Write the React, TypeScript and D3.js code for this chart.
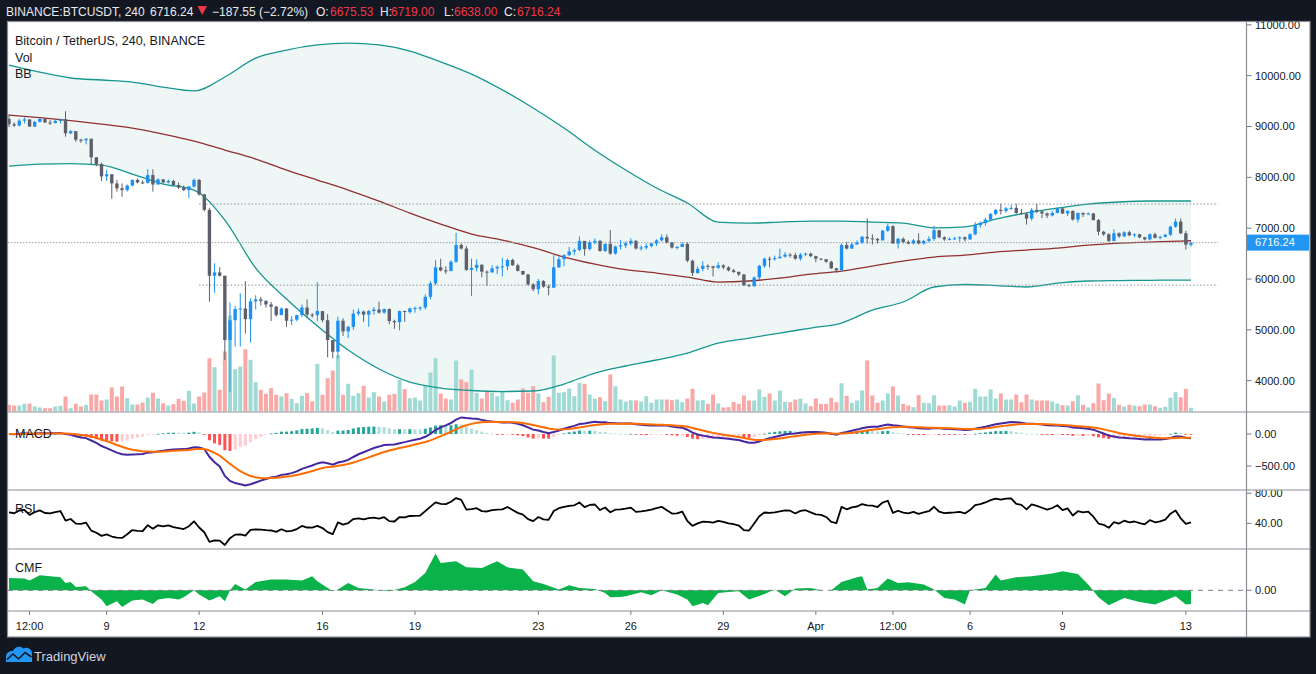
import { useEffect, useRef } from 'react';
import * as d3 from 'd3';

// BINANCE:BTCUSDT 4h bars, first bar 2020-03-05 20:00 UTC, last 2020-04-13 04:00 UTC
const firstOpen = 9150;

const closes = [
  9045, 9020, 9115, 9140, 9000, 9090, 9150, 9080, 9070, 9110,
  9140, 8865, 8910, 8740, 8730, 8760, 8395, 8262, 8020, 8060,
  7880, 7785, 7750, 7840, 7950, 7900, 7890, 8045, 7860, 7960,
  7900, 7930, 7850, 7800, 7750, 7820, 7950, 7665, 7360, 6065,
  6130, 6065, 4800, 5190, 5410, 5420, 5210, 5560, 5600, 5570,
  5500, 5455, 5290, 5420, 5180, 5200, 5290, 5440, 5300, 5290,
  5370, 5190, 4800, 4570, 5180, 4970, 5060, 5320, 5360, 5300,
  5370, 5400, 5340, 5410, 5175, 5150, 5370, 5350, 5420, 5430,
  5440, 5650, 5915, 6230, 6170, 6160, 6340, 6670, 6600, 6180,
  6220, 6280, 6145, 6130, 6210, 6240, 6250, 6375, 6270, 6160,
  6090, 5895, 5800, 5960, 5850, 5830, 6230, 6390, 6470, 6540,
  6570, 6750, 6590, 6720, 6750, 6550, 6690, 6500, 6640, 6660,
  6700, 6750, 6600, 6620, 6650, 6700, 6760, 6820, 6720, 6620,
  6630, 6690, 6360, 6120, 6200, 6260, 6250, 6220, 6270, 6230,
  6170, 6140, 6090, 5880, 5860, 6030, 6260, 6400, 6390, 6410,
  6440, 6480, 6470, 6400, 6480, 6500, 6450, 6400, 6390, 6340,
  6210, 6170, 6670, 6600, 6680, 6720, 6830, 6800, 6790, 6760,
  6950, 7040, 6700, 6790, 6730, 6700, 6760, 6700, 6750, 6790,
  6960, 6820, 6780, 6790, 6800, 6820, 6780, 6880, 7060, 7100,
  7170, 7280, 7360, 7340, 7390, 7400, 7300, 7280, 7190, 7360,
  7330, 7290, 7250, 7300, 7390, 7290, 7340, 7170, 7300, 7270,
  7290, 7160, 6930, 6880, 6750, 6900, 6840, 6920, 6860, 6880,
  6820, 6780, 6880, 6810, 6830, 6870, 7030, 7130, 6900, 6675.53,
  6716.24,
];

const highs = [
  9245, 9085, 9150, 9180, 9140, 9110, 9170, 9150, 9130, 9130,
  9160, 9300, 8930, 8910, 8760, 8770, 8760, 8400, 8290, 8150,
  8065, 7950, 7880, 7860, 7960, 7980, 7940, 8160, 8160, 7980,
  7970, 7960, 7950, 7900, 7840, 7830, 7980, 7970, 7670, 7400,
  6310, 6230, 6065, 5540, 5470, 5720, 5960, 5620, 5680, 5650,
  5580, 5550, 5470, 5440, 5430, 5270, 5300, 5500, 5600, 5330,
  5940, 5370, 5310, 4800, 5260, 5230, 5080, 5400, 5420, 5380,
  5390, 5450, 5555, 5420, 5420, 5200, 5380, 5380, 5440, 5460,
  5460, 5700, 5960, 6370, 6400, 6250, 6370, 6910, 6700, 6650,
  6400, 6390, 6290, 6170, 6270, 6270, 6420, 6400, 6400, 6300,
  6160, 6100, 5920, 6000, 5980, 5890, 6470, 6440, 6490, 6630,
  6600, 6840, 6750, 6760, 6800, 6770, 6700, 6964, 6660, 6770,
  6740, 6800, 6770, 6660, 6700, 6710, 6780, 6880, 6880, 6730,
  6650, 6720, 6720, 6380, 6250, 6350, 6290, 6260, 6330, 6290,
  6250, 6200, 6150, 6100, 5900, 6050, 6280, 6420, 6440, 6460,
  6600, 6530, 6510, 6520, 6510, 6520, 6520, 6460, 6410, 6370,
  6360, 6220, 6700, 6733, 6720, 6760, 6850, 7194, 6880, 6810,
  6970, 7090, 7060, 6810, 6820, 6760, 6790, 6900, 6770, 6840,
  7050, 6950, 6840, 6820, 6830, 6840, 6840, 6900, 7120, 7130,
  7200, 7300, 7380, 7480, 7420, 7460, 7480, 7380, 7310, 7400,
  7480, 7350, 7310, 7340, 7410, 7400, 7350, 7350, 7310, 7310,
  7310, 7300, 7180, 6950, 6900, 6980, 6920, 6940, 6950, 6900,
  6890, 6830, 6900, 6910, 6850, 6890, 7050, 7190, 7190, 6950,
  6719,
];

const lows = [
  8990, 8990, 9000, 9060, 8990, 8990, 9080, 9070, 9030, 9060,
  9060, 8800, 8850, 8700, 8680, 8650, 8250, 8220, 7930, 7930,
  7580, 7720, 7620, 7720, 7820, 7880, 7870, 7880, 7720, 7870,
  7880, 7880, 7830, 7770, 7730, 7590, 7800, 7640, 7330, 5555,
  5730, 6050, 4407, 3783, 4670, 4670, 4930, 4750, 5400, 5480,
  5440, 5174, 5260, 5310, 5060, 5100, 5170, 5250, 5230, 5240,
  5170, 5150, 4460, 4440, 4440, 4880, 4840, 5000, 5280, 5160,
  5060, 5300, 5320, 5320, 5110, 5020, 4990, 5160, 5320, 5340,
  5380, 5400, 5600, 5880, 6150, 6100, 6150, 6320, 6580, 6160,
  5665, 6150, 6033, 5870, 6130, 6100, 6050, 6170, 6260, 6150,
  6080, 5870, 5760, 5700, 5830, 5680, 5830, 6220, 6250, 6450,
  6470, 6550, 6460, 6560, 6680, 6540, 6530, 6480, 6480, 6580,
  6610, 6660, 6580, 6560, 6580, 6620, 6650, 6740, 6700, 6600,
  6580, 6630, 6330, 6060, 6100, 6150, 6180, 6050, 6200, 6190,
  6150, 6120, 6060, 5860, 5840, 5850, 5980, 6220, 6230, 6360,
  6400, 6420, 6420, 6380, 6360, 6450, 6430, 6330, 6370, 6320,
  6200, 6130, 6190, 6580, 6590, 6680, 6690, 6700, 6680, 6700,
  6760, 6930, 6690, 6600, 6700, 6680, 6680, 6680, 6680, 6720,
  6750, 6800, 6750, 6760, 6770, 6730, 6740, 6770, 6860, 7010,
  7050, 7150, 7250, 7270, 7300, 7360, 7280, 7260, 7070, 7150,
  7300, 7200, 7200, 7230, 7290, 7280, 7240, 7150, 7110, 7220,
  7260, 7150, 6860, 6850, 6730, 6740, 6810, 6820, 6840, 6820,
  6800, 6760, 6760, 6800, 6780, 6820, 6850, 7010, 6880, 6580,
  6638,
];

// volume, thousand BTC
const volumes = [
  6.7, 6, 6, 7.7, 8, 5, 4, 3.3, 3.3, 5,
  5.7, 15, 3.3, 7.7, 5, 6.7, 17, 17, 11, 12,
  24, 15, 25, 13.3, 7, 7, 9, 14, 18.7, 13,
  8.3, 6, 7.3, 12.7, 10.7, 20.7, 8, 15, 19, 53.3,
  44.3, 21.7, 60, 96, 42.3, 45, 62.3, 51.7, 29.3, 21.7,
  17.7, 23.3, 16.7, 15, 18.3, 12.7, 8.3, 15.7, 18.3, 10,
  47.7, 16.7, 33.3, 41, 56.3, 16.7, 27.7, 15.7, 18.3, 25.7,
  14, 19.3, 15, 10, 16.7, 17.7, 31.7, 22.3, 13.3, 14,
  11, 26, 39, 53.3, 18, 13, 12, 51, 32, 29.3,
  42, 18.7, 13, 20.3, 18.7, 15.3, 20.3, 11.3, 8.7, 12,
  23, 18.7, 25.3, 18, 9.3, 14.7, 56, 18.7, 19.3, 23,
  15.3, 28.7, 27.7, 17, 12.7, 14.3, 10.3, 37, 25.3, 12,
  10, 11.3, 11, 10, 15.3, 8.7, 12, 12, 12, 11.3,
  12, 9.3, 13, 22.7, 11, 11.3, 7.7, 17, 8, 4,
  4.3, 9.7, 7.7, 16, 11, 11, 22, 14.7, 18, 11,
  21, 9.7, 9.3, 12, 13, 8, 5.3, 13, 7.7, 7.7,
  13.7, 9.3, 28.3, 15.7, 8.7, 11, 21, 51, 16, 8.7,
  11, 18, 25, 16, 7.7, 6, 4.3, 16.3, 8.7, 8.3,
  16.3, 6, 6, 6.3, 5, 11, 8.7, 9.7, 22.7, 15,
  15, 22, 13, 18, 12, 12, 17, 9.3, 17, 12,
  11, 11, 11, 10, 8, 6.3, 6, 10.3, 16.3, 6.7,
  4, 8.3, 28, 11.3, 18, 13.7, 6.7, 5, 6.7, 6,
  5.3, 7, 7, 5.3, 3.7, 4.7, 13.7, 19.3, 14.3, 22.7,
  3.7,
];

// Bollinger Bands (plus the last one)
const bbBars = [
  0, 6, 12, 18, 24, 30, 36, 42, 48, 54, 60, 66, 72, 78, 84, 90, 96, 102, 108, 114,
  120, 126, 132, 138, 144, 150, 156, 162, 168, 174, 180, 186, 192, 198, 204, 210, 216, 222, 228, 230,
];
const bbUpper = [
  10210, 10070, 9955, 9915, 9875, 9775, 9700, 9975, 10345, 10505,
  10605, 10640, 10605, 10485, 10270, 10030, 9720, 9365, 8970, 8535,
  8145, 7790, 7495, 7120, 7100, 7120, 7140, 7140, 7120, 7100,
  7005, 7025, 7180, 7300, 7395, 7475, 7515, 7535, 7535, 7535,
];
const bbBasis = [
  9226, 9177, 9118, 9049, 8970, 8852, 8714, 8537, 8360, 8144,
  7947, 7751, 7534, 7298, 7082, 6885, 6767, 6620, 6433, 6295,
  6187, 6118, 6039, 5941, 5961, 6020, 6098, 6157, 6256, 6354,
  6433, 6472, 6531, 6570, 6610, 6669, 6708, 6728, 6747, 6753,
];
const bbLower = [
  8223, 8262, 8272, 8242, 8065, 7869, 7751, 7160, 6216, 5607,
  5076, 4603, 4230, 3974, 3856, 3807, 3787, 3797, 3935, 4151,
  4289, 4407, 4544, 4741, 4839, 4938, 5036, 5135, 5390, 5548,
  5843, 5892, 5872, 5843, 5921, 5961, 5970, 5974, 5980, 5980,
];

const cmfBars = [
  0, 3, 4, 6, 8, 10, 11, 12, 13, 15, 16, 18, 19, 21, 22, 24, 26, 28, 29, 31,
  33, 34, 36, 37, 39, 41, 42, 43, 44, 46, 48, 51, 54, 57, 59, 60, 63, 64, 66, 68,
  70, 72, 74, 77, 79, 81, 83, 84, 87, 89, 92, 95, 97, 100, 102, 104, 107, 109, 111, 114,
  116, 117, 119, 120, 123, 125, 127, 130, 132, 133, 135, 136, 138, 140, 142, 144, 147, 149, 151, 153,
  156, 158, 160, 162, 165, 166, 167, 169, 171, 173, 175, 178, 180, 182, 184, 186, 187, 190, 192, 193,
  196, 199, 203, 205, 208, 210, 212, 214, 217, 220, 223, 227, 229, 230,
];
const cmfValues = [
  0.123, 0.117, 0.097, 0.15, 0.14, 0.13, 0.073, 0.083, 0.033, 0.04, -0.01, -0.093, -0.16, -0.11, -0.167, -0.103, -0.093, -0.137, -0.093, -0.077,
  -0.093, -0.07, 0, -0.043, -0.103, -0.06, -0.11, 0, 0.063, 0.007, 0.083, 0.107, 0.107, 0.097, 0.14, 0.09, -0.01, 0.007, 0.073, 0.023,
  0.013, 0, -0.01, 0.03, 0.083, 0.173, 0.367, 0.273, 0.29, 0.23, 0.223, 0.29, 0.23, 0.207, 0.09, 0.063, 0.007, 0.05, 0.023, 0.013,
  -0.027, -0.07, -0.067, -0.06, -0.02, -0.05, 0, -0.043, -0.093, -0.16, -0.127, -0.15, -0.027, -0.017, -0.01, -0.093, -0.037, 0.007, -0.06, 0.017,
  0.023, 0, 0, 0.083, 0.13, 0.14, 0.007, 0.023, 0.117, 0.073, 0.08, 0.057, 0.007, -0.077, -0.093, -0.143, 0, 0.023, 0.157, 0.097,
  0.13, 0.14, 0.167, 0.19, 0.163, 0.057, -0.07, -0.15, -0.077, -0.117, -0.143, -0.06, -0.143, -0.137,
];

// horizontal rays drawn from Mar 12
const levelPrices = [7475, 5880];
const lastPrice = 6716.24;

const priceTicks = [4000, 5000, 6000, 7000, 8000, 9000, 10000, 11000];
const macdTicks = [0, -500];
const rsiTicks = [80, 40];
const cmfTicks = [0];

const timeTicks: [string, string][] = [
  ['2020-03-06T12:00:00Z', '12:00'],
  ['2020-03-09T00:00:00Z', '9'],
  ['2020-03-12T00:00:00Z', '12'],
  ['2020-03-16T00:00:00Z', '16'],
  ['2020-03-19T00:00:00Z', '19'],
  ['2020-03-23T00:00:00Z', '23'],
  ['2020-03-26T00:00:00Z', '26'],
  ['2020-03-29T00:00:00Z', '29'],
  ['2020-04-01T00:00:00Z', 'Apr'],
  ['2020-04-03T12:00:00Z', '12:00'],
  ['2020-04-06T00:00:00Z', '6'],
  ['2020-04-09T00:00:00Z', '9'],
  ['2020-04-13T00:00:00Z', '13'],
];

const W = 1316;
const H = 674;
const FONT = '"Liberation Sans", Arial, sans-serif';
const DARK = '#131722';
const RED = '#f23645';

const fmt = (v: number) => d3.format('.2f')(v).replace('-', '\u2212');

export default function App() {
  const svgRef = useRef<SVGSVGElement>(null);

  useEffect(() => {
    if (!svgRef.current) return;
    document.body.style.margin = '0';
    document.body.style.overflow = 'hidden';

    const svg = d3.select(svgRef.current).attr('width', W).attr('height', H);
    svg.selectAll('*').remove();

    const left = 8;
    const axisX = 1246.5;
    const right = 1310;
    const bottom = 637;
    const mainTop = 21.5;
    const mainBot = 411.5;
    const macdBot = 489.5;
    const rsiBot = 548.5;
    const cmfBot = 610.5;

    const t0 = Date.UTC(2020, 2, 5, 20);
    const barMs = 4 * 3600 * 1000;
    const n = Math.min(closes.length, highs.length, lows.length, volumes.length);

    const x = d3.scaleUtc()
      .domain([new Date(t0), new Date(t0 + 230 * barMs)])
      .range([9, 1191]);
    const bx = (i: number) => x(new Date(t0 + i * barMs));

    const y = d3.scaleLinear().domain([4000, 10000]).range([380.7, 75.7]);
    const yVol = d3.scaleLinear().domain([0, d3.max(volumes) || 1]).range([mainBot, mainBot - 96]);
    const yMacd = d3.scaleLinear().domain([-500, 0]).range([466, 434]);
    const yRsi = d3.scaleLinear().domain([40, 80]).range([523.3, 493.3]);
    const yCmf = d3.scaleLinear().domain([0, 0.1]).range([590.3, 580.3]);

    const bars = d3.range(n).map(i => {
      const o = i === 0 ? firstOpen : closes[i - 1];
      const c = closes[i];
      return { i, o, c, h: Math.max(highs[i], o, c), l: Math.min(lows[i], o, c), v: volumes[i], up: c >= o };
    });

    // MACD (12, 26, 9) and RSI (14) from the closes
    const ema = (src: number[], len: number) => {
      const a = 2 / (len + 1);
      const out: number[] = [];
      src.forEach((v, i) => out.push(i === 0 ? v : a * v + (1 - a) * out[i - 1]));
      return out;
    };
    const cl = bars.map(b => b.c);
    const e12 = ema(cl, 12);
    const e26 = ema(cl, 26);
    const macd = cl.map((_, i) => e12[i] - e26[i]);
    const signal = ema(macd, 9);
    const hist = macd.map((m, i) => m - signal[i]);

    const changes = bars.map(b => b.c - b.o);
    const seed = (d3.mean(changes.slice(0, 14), d => Math.abs(d)) || 1) / 2;
    let au = seed * 1.25;
    let ad = seed * 0.85;
    const rsi = changes.map(ch => {
      au = (au * 13 + Math.max(ch, 0)) / 14;
      ad = (ad * 13 + Math.max(-ch, 0)) / 14;
      return 100 - 100 / (1 + au / ad);
    });

    // frame
    svg.append('rect').attr('width', W).attr('height', H).attr('fill', DARK);
    svg.append('rect')
      .attr('x', left).attr('y', mainTop)
      .attr('width', right - left).attr('height', bottom - mainTop)
      .attr('fill', '#fff');

    const defs = svg.append('defs');
    const clip = (id: string, x0: number, y0: number, x1: number, y1: number) => {
      defs.append('clipPath').attr('id', id)
        .append('rect').attr('x', x0).attr('y', y0).attr('width', x1 - x0).attr('height', y1 - y0);
      return `url(#${id})`;
    };
    const cMain = clip('c-main', left, mainTop, axisX, mainBot);
    const cMacd = clip('c-macd', left, mainBot + 1, axisX, macdBot);
    const cRsi = clip('c-rsi', left, macdBot + 1, axisX, rsiBot);
    const cCmf = clip('c-cmf', left, rsiBot + 1, axisX, cmfBot);
    const aMain = clip('a-main', axisX, mainTop, right, mainBot);
    const aMacd = clip('a-macd', axisX, mainBot + 1, right, macdBot);
    const aRsi = clip('a-rsi', axisX, macdBot + 1, right, rsiBot);
    const aCmf = clip('a-cmf', axisX, rsiBot + 1, right, cmfBot);

    // ---- main pane
    const main = svg.append('g').attr('clip-path', cMain);

    const bbPts = bbBars.map((b, j) => ({ x: bx(b), u: y(bbUpper[j]), m: y(bbBasis[j]), l: y(bbLower[j]) }));
    main.append('path')
      .datum(bbPts)
      .attr('fill', '#eff7f6')
      .attr('d', d3.area<typeof bbPts[0]>().x(d => d.x).y0(d => d.l).y1(d => d.u).curve(d3.curveMonotoneX));

    main.append('g').selectAll('rect').data(bars).join('rect')
      .attr('x', d => bx(d.i) - 2)
      .attr('width', 4)
      .attr('y', d => yVol(d.v))
      .attr('height', d => mainBot - yVol(d.v))
      .attr('fill', d => (d.up ? '#a0dad4' : '#f8a9a7'));

    const bbLine = (key: 'u' | 'm' | 'l', color: string) => main.append('path')
      .datum(bbPts)
      .attr('fill', 'none')
      .attr('stroke', color)
      .attr('stroke-width', 1.3)
      .attr('d', d3.line<typeof bbPts[0]>().x(d => d.x).y(d => d[key]).curve(d3.curveMonotoneX));
    bbLine('u', '#17968f');
    bbLine('l', '#17968f');
    bbLine('m', '#922f2f');

    levelPrices.forEach(p => {
      main.append('line')
        .attr('x1', bx(37)).attr('x2', 1218)
        .attr('y1', y(p)).attr('y2', y(p))
        .attr('stroke', '#8f929b').attr('stroke-width', 1).attr('stroke-dasharray', '1.5 2');
    });
    main.append('line')
      .attr('x1', left).attr('x2', 1218)
      .attr('y1', y(lastPrice)).attr('y2', y(lastPrice))
      .attr('stroke', '#9fa2aa').attr('stroke-width', 1).attr('stroke-dasharray', '1.5 1.5');

    const candles = main.append('g').selectAll('g').data(bars).join('g');
    candles.append('line')
      .attr('x1', d => bx(d.i)).attr('x2', d => bx(d.i))
      .attr('y1', d => y(d.h)).attr('y2', d => y(d.l))
      .attr('stroke', d => (d.up ? '#1e90f0' : '#5d606b')).attr('stroke-width', 1);
    candles.append('rect')
      .attr('x', d => bx(d.i) - 1.7)
      .attr('width', 3.4)
      .attr('y', d => y(Math.max(d.o, d.c)))
      .attr('height', d => Math.max(1, Math.abs(y(d.o) - y(d.c))))
      .attr('fill', d => (d.up ? '#1e90f0' : '#5d606b'));

    // ---- MACD pane
    const mg = svg.append('g').attr('clip-path', cMacd);
    mg.append('g').selectAll('rect').data(hist).join('rect')
      .attr('x', (_, i) => bx(i) - 1.5)
      .attr('width', 3)
      .attr('y', d => Math.min(yMacd(d), yMacd(0)))
      .attr('height', d => Math.max(0.8, Math.abs(yMacd(d) - yMacd(0))))
      .attr('fill', (d, i) => {
        const prev = i === 0 ? d : hist[i - 1];
        if (d >= 0) return prev < d ? '#26a69a' : '#b2dfdb';
        return prev < d ? '#ffcdd2' : '#ff5252';
      });
    mg.append('path')
      .attr('fill', 'none').attr('stroke', '#4527a0').attr('stroke-width', 2)
      .attr('d', d3.line<number>().x((_, i) => bx(i)).y(d => yMacd(d))(macd));
    mg.append('path')
      .attr('fill', 'none').attr('stroke', '#ff6d00').attr('stroke-width', 2)
      .attr('d', d3.line<number>().x((_, i) => bx(i)).y(d => yMacd(d))(signal));

    // ---- RSI pane
    const rg = svg.append('g').attr('clip-path', cRsi);
    rg.append('path')
      .attr('fill', 'none').attr('stroke', '#000').attr('stroke-width', 1.8)
      .attr('stroke-linejoin', 'round')
      .attr('d', d3.line<number>().x((_, i) => bx(i)).y(d => yRsi(d))(rsi));

    // ---- CMF pane
    const cg = svg.append('g').attr('clip-path', cCmf);
    cg.append('path')
      .attr('fill', '#0ab34a')
      .attr('d', d3.area<number>().x((_, j) => bx(cmfBars[j])).y0(yCmf(0)).y1(d => yCmf(d))(cmfValues));
    cg.append('line')
      .attr('x1', left).attr('x2', axisX)
      .attr('y1', yCmf(0)).attr('y2', yCmf(0))
      .attr('stroke', '#787b86').attr('stroke-width', 1).attr('stroke-dasharray', '5 5');

    // ---- separators and frame
    const sep = '#8a8d94';
    [mainBot + 0.5, macdBot + 0.5, rsiBot + 0.5, cmfBot + 0.5].forEach(yy => {
      svg.append('line').attr('x1', left).attr('x2', right).attr('y1', yy).attr('y2', yy)
        .attr('stroke', sep).attr('stroke-width', 1.2);
    });
    svg.append('line').attr('x1', axisX).attr('x2', axisX).attr('y1', mainTop).attr('y2', bottom)
      .attr('stroke', sep).attr('stroke-width', 1.2);
    svg.append('rect')
      .attr('x', left - 0.5).attr('y', mainTop).attr('width', right - left + 0.5).attr('height', bottom - mainTop)
      .attr('fill', 'none').attr('stroke', sep).attr('stroke-width', 1.2);

    // ---- right axes
    const axisLabels = (ticks: number[], scale: (v: number) => number, clipUrl: string) => {
      const g = svg.append('g').attr('clip-path', clipUrl);
      ticks.forEach(t => {
        const yy = scale(t);
        g.append('line').attr('x1', axisX).attr('x2', axisX + 5).attr('y1', yy).attr('y2', yy)
          .attr('stroke', '#787b86').attr('stroke-width', 1);
        g.append('text').attr('x', axisX + 8.5).attr('y', yy).attr('dy', '0.35em')
          .attr('font-family', FONT).attr('font-size', 11).attr('fill', DARK)
          .text(fmt(t));
      });
      return g;
    };
    const pa = axisLabels(priceTicks, y, aMain);
    pa.append('rect').attr('x', axisX + 0.5).attr('y', y(lastPrice) - 8).attr('width', 62).attr('height', 16)
      .attr('fill', '#2196f3');
    pa.append('text').attr('x', axisX + 8.5).attr('y', y(lastPrice)).attr('dy', '0.35em')
      .attr('font-family', FONT).attr('font-size', 11).attr('fill', '#fff')
      .text(fmt(lastPrice));
    axisLabels(macdTicks, yMacd, aMacd);
    axisLabels(rsiTicks, yRsi, aRsi);
    axisLabels(cmfTicks, yCmf, aCmf);

    // ---- time axis
    timeTicks.forEach(([iso, label]) => {
      const xx = x(new Date(iso));
      svg.append('line').attr('x1', xx).attr('x2', xx).attr('y1', cmfBot + 0.5).attr('y2', cmfBot + 4.5)
        .attr('stroke', '#787b86').attr('stroke-width', 1);
      svg.append('text').attr('x', xx).attr('y', 630).attr('text-anchor', 'middle')
        .attr('font-family', FONT).attr('font-size', 11).attr('fill', DARK)
        .text(label);
    });

    // ---- pane legends
    const legend = (txt: string, yy: number) => svg.append('text')
      .attr('x', 15).attr('y', yy).attr('font-family', FONT).attr('font-size', 12.5).attr('fill', DARK).text(txt);
    legend('Bitcoin / TetherUS, 240, BINANCE', 44.5);
    legend('Vol', 61.5);
    legend('BB', 78);
    legend('MACD', 437.5);
    legend('RSI', 512.5);
    legend('CMF', 571.5);

    // ---- header
    const head = (txt: string, xx: number, color: string) => svg.append('text')
      .attr('x', xx).attr('y', 15.5).attr('font-family', FONT).attr('font-size', 12)
      .attr('fill', color).text(txt);
    head('BINANCE:BTCUSDT, 240', 6, '#e8e9ec');
    head('6716.24', 150, '#e8e9ec');
    svg.append('path').attr('d', 'M197.5,6 L207,6 L202.25,15 Z').attr('fill', RED);
    head('\u2212187.55 (\u22122.72%)', 212, '#e8e9ec');
    head('O:', 316, '#e8e9ec');
    head('6675.53', 330, RED);
    head('H:', 380, '#e8e9ec');
    head('6719.00', 391, RED);
    head('L:', 444, '#e8e9ec');
    head('6638.00', 454, RED);
    head('C:', 504, '#e8e9ec');
    head('6716.24', 517, RED);

    // ---- footer
    svg.append('path')
      .attr('d', 'M6,662 L6,657 C6,653 9,650.5 13,651 C15,646.5 20.5,645.5 23.5,648.5 C27.5,646.5 32,649 32,654 L32,662 Z')
      .attr('fill', '#2196f3');
    svg.append('polyline')
      .attr('points', '7,659.5 13,654 18.5,659 25,652.5 31.5,657')
      .attr('fill', 'none').attr('stroke', DARK).attr('stroke-width', 1.6);
    svg.append('text').attr('x', 34).attr('y', 660.5)
      .attr('font-family', FONT).attr('font-size', 13).attr('fill', '#d1d4dc')
      .text('TradingView');
  }, []);

  return (
    <div style={{ position: 'absolute', left: 0, top: 0, width: W, height: H }}>
      <svg ref={svgRef} style={{ display: 'block' }} />
    </div>
  );
}
